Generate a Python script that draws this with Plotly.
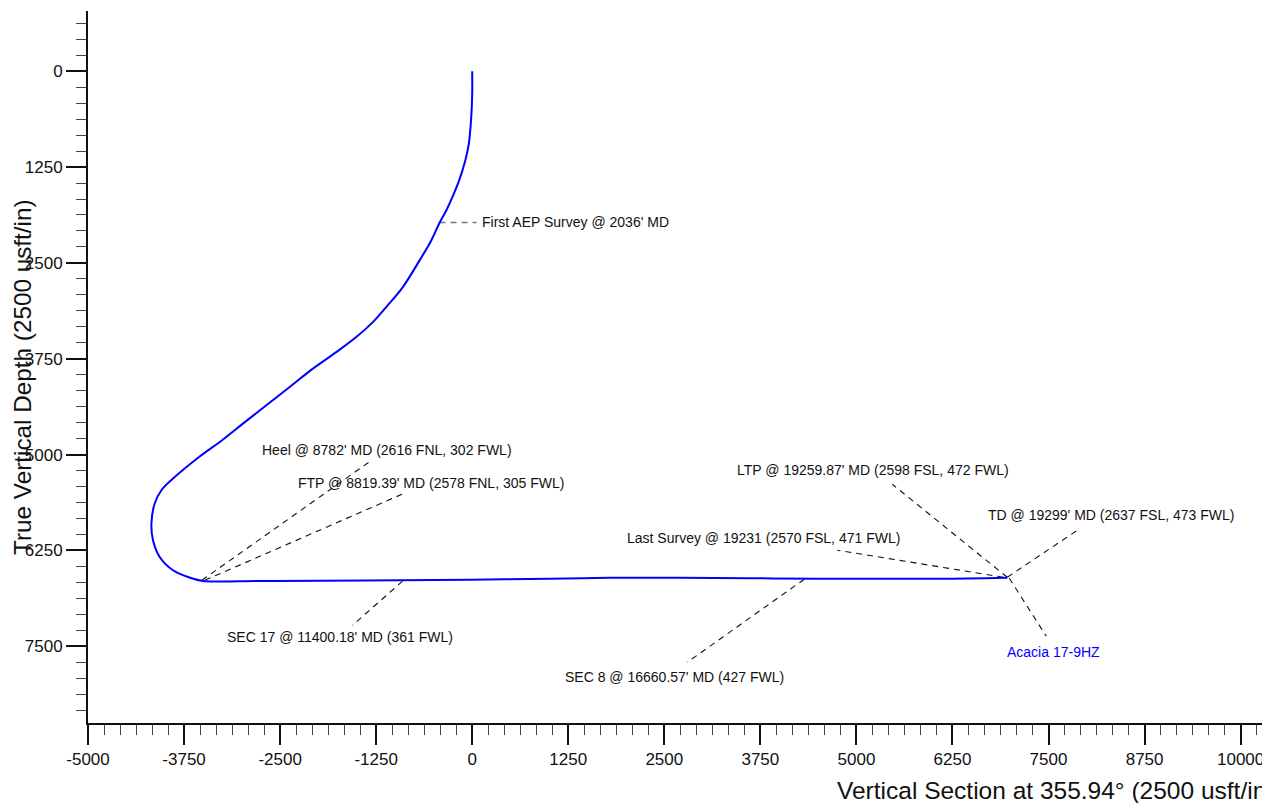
import plotly.graph_objects as go

# Well path: vertical section (usft) vs true vertical depth (usft)
vs = [0, 0, -13, -44, -90, -170, -258, -338, -425, -533, -685, -903, -1119, -1293,
      -1509, -1769, -2073, -2376, -2679, -2984, -3255, -3555, -3894, -4045, -4132,
      -4175, -4154, -4067, -3894, -3677, -3504, -2767, -1986, -946, -35, 1006,
      1786, 2697, 3607, 4518, 5298, 6079, 6963]
tvd = [0, 295, 600, 946, 1164, 1424, 1642, 1816, 1976, 2207, 2467, 2815, 3076, 3272,
       3467, 3663, 3879, 4119, 4357, 4596, 4813, 5031, 5313, 5465, 5638,
       5899, 6117, 6335, 6508, 6603, 6647, 6647, 6645, 6638, 6632, 6619,
       6606, 6606, 6612, 6619, 6619, 6619, 6606]

# Annotated points: label, point on well, leader end, label centre
labels = ["First AEP Survey @ 2036' MD",
          "Heel @ 8782' MD (2616 FNL, 302 FWL)",
          "FTP @ 8819.39' MD (2578 FNL, 305 FWL)",
          "SEC 17 @ 11400.18' MD (361 FWL)",
          "LTP @ 19259.87' MD (2598 FSL, 472 FWL)",
          "TD @ 19299' MD (2637 FSL, 473 FWL)",
          "Last Survey @ 19231 (2570 FSL, 471 FWL)",
          "SEC 8 @ 16660.57' MD (427 FWL)",
          "Acacia 17-9HZ"]
pt_vs = [-425, -3517, -3478, -907, 6963, 6963, 6911, 4322, 6989]
pt_tvd = [1973, 6638, 6638, 6651, 6599, 6599, 6599, 6625, 6612]
end_vs = [56, -1310, -855, -1557, 5467, 7874, 4752, 2800, 7470]
end_tvd = [1973, 5074, 5491, 7225, 5387, 5987, 6247, 7707, 7368]
lab_vs = [95, -1108, -536, -1720, 5219, 8315, 3789, 2638, 7567]
lab_tvd = [1973, 4944, 5374, 7381, 5205, 5791, 6091, 7903, 7577]
lab_anchor = ["left", "center", "center", "center", "center", "center", "center", "center", "center"]
lab_color = ["#111111"] * 8 + ["#0000FF"]
leader_color = ["#777777"] + ["#111111"] * 8

x_ticks = [-5000, -3750, -2500, -1250, 0, 1250, 2500, 3750, 5000, 6250, 7500, 8750, 10000]
y_ticks = [0, 1250, 2500, 3750, 5000, 6250, 7500]

x_title = "Vertical Section at 355.94° (2500 usft/in"
y_title = "True Vertical Depth (2500 usft/in)"

FONT = "Liberation Sans, Arial, Helvetica, sans-serif"

fig = go.Figure()

for i in range(len(labels)):
    fig.add_trace(go.Scatter(
        x=[pt_vs[i], end_vs[i]], y=[pt_tvd[i], end_tvd[i]], mode="lines",
        line=dict(color=leader_color[i], width=1.1 if i else 1.6, dash="6px,5px"),
        hoverinfo="skip", showlegend=False))

fig.add_trace(go.Scatter(x=vs, y=tvd, mode="lines",
                         line=dict(color="#0000FF", width=2, shape="spline", smoothing=1.0),
                         showlegend=False, name="Acacia 17-9HZ"))

for i in range(len(labels)):
    fig.add_annotation(x=lab_vs[i], y=lab_tvd[i], xref="x", yref="y", text=labels[i],
                       showarrow=False, xanchor=lab_anchor[i], yanchor="middle",
                       font=dict(family=FONT, size=14, color=lab_color[i]))

# page has an 8px body margin; paper fractions below are relative to the plot area
fig.add_annotation(text=x_title, xref="paper", yref="paper",
                   x=(835 - 88) / 1178, y=(723 - 790) / 712, xanchor="left", yanchor="middle",
                   showarrow=False, font=dict(family=FONT, size=24.5, color="#111111"))
fig.add_annotation(text=y_title, xref="paper", yref="paper",
                   x=(22 - 88) / 1178, y=(723 - 377) / 712, xanchor="center", yanchor="middle",
                   textangle=-90, showarrow=False, font=dict(family=FONT, size=24.3, color="#111111"))

axis_common = dict(showgrid=False, zeroline=False, showline=True, linecolor="#111111",
                   linewidth=2, ticks="outside", ticklen=20, tickwidth=2, tickcolor="#111111",
                   tickfont=dict(family=FONT, size=17, color="#111111"), automargin=False,
                   minor=dict(dtick=1250 / 6, ticks="outside", ticklen=10, tickwidth=1,
                              tickcolor="#444444", showgrid=False))

fig.update_xaxes(range=[-5000, 10330], tickmode="array", tickvals=x_ticks,
                 ticktext=[str(v) for v in x_ticks], ticklabelstandoff=0, **axis_common)
fig.update_yaxes(range=[8500, -785], tickmode="array", tickvals=y_ticks,
                 ticktext=[str(v) for v in y_ticks], ticklabelstandoff=0, **axis_common)

fig.update_layout(width=1262, height=795, margin=dict(l=80, r=4, t=3, b=80),
                  plot_bgcolor="white", paper_bgcolor="white", showlegend=False,
                  font=dict(family=FONT))

fig.write_html("out.html")
